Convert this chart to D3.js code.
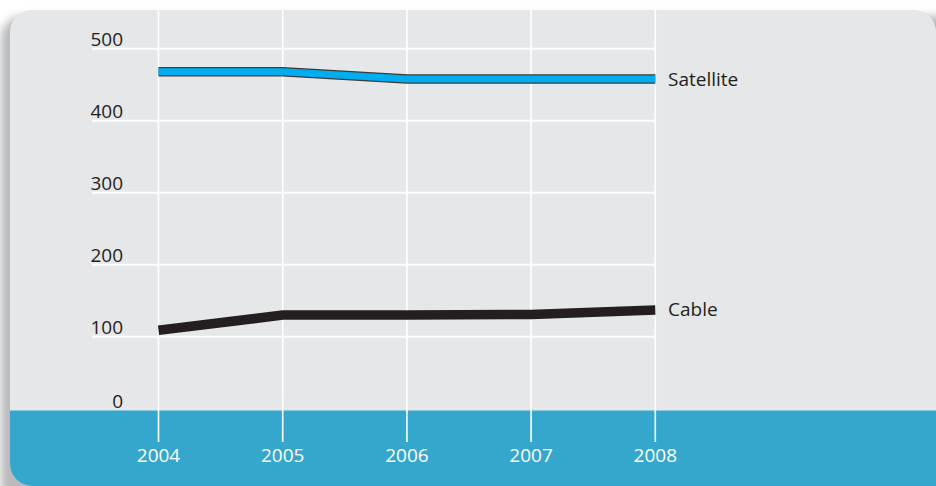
<!DOCTYPE html>
<html>
<head>
<meta charset="utf-8">
<script src="https://cdn.jsdelivr.net/npm/d3@7"></script>
<style>
  html, body { margin: 0; padding: 0; background: #fff; }
  text { font-family: "Open Sans", "Noto Sans", sans-serif; }
</style>
</head>
<body>
<div id="chart"></div>
<script>
// datos
const years = [2004, 2005, 2006, 2007, 2008];
const satellite = [468, 468, 458, 458, 458];
const cable = [109, 130, 130, 131, 137];
const yTicks = [0, 100, 200, 300, 400, 500];

const width = 936;
const height = 486;
const fontSize = 19;

const svg = d3.select('#chart')
  .append('svg')
  .attr('width', width)
  .attr('height', height);

const defs = svg.append('defs');

// sombra del panel
defs.append('filter')
  .attr('id', 'shadow')
  .attr('x', '-20%').attr('y', '-20%')
  .attr('width', '140%').attr('height', '140%')
  .append('feGaussianBlur')
  .attr('stdDeviation', 4);

const clip = defs.append('clipPath').attr('id', 'panelClip');
clip.append('rect')
  .attr('x', 10).attr('y', 10)
  .attr('width', 926).attr('height', 476)
  .attr('rx', 22).attr('ry', 22);
// esquina inferior derecha recta
clip.append('rect')
  .attr('x', 500).attr('y', 100)
  .attr('width', 436).attr('height', 386);

svg.append('rect')
  .attr('x', 1).attr('y', 16)
  .attr('width', 960).attr('height', 490)
  .attr('rx', 22)
  .attr('fill', '#b9babc')
  .attr('filter', 'url(#shadow)');

const panel = svg.append('g').attr('clip-path', 'url(#panelClip)');

panel.append('rect')
  .attr('x', 10).attr('y', 10)
  .attr('width', 926).attr('height', 476)
  .attr('fill', '#e6e7e8');

// escalas
const x = d3.scalePoint()
  .domain(years)
  .range([158.5, 655.3]);

const y = d3.scaleLinear()
  .domain([0, 500])
  .range([408.7, 48.7]);

// banda azul del eje x
panel.append('rect')
  .attr('x', 10).attr('y', 410.5)
  .attr('width', 926).attr('height', 80)
  .attr('fill', '#35a7cd');

// rejilla horizontal
panel.selectAll('.hgrid')
  .data(yTicks.filter(d => d > 0))
  .enter()
  .append('line')
  .attr('class', 'hgrid')
  .attr('x1', 92).attr('x2', x(2008))
  .attr('y1', d => y(d)).attr('y2', d => y(d))
  .attr('stroke', '#fff')
  .attr('stroke-width', 2);

// rejilla vertical
panel.selectAll('.vgrid')
  .data(years)
  .enter()
  .append('line')
  .attr('class', 'vgrid')
  .attr('x1', d => x(d)).attr('x2', d => x(d))
  .attr('y1', 10).attr('y2', 442)
  .attr('stroke', '#fff')
  .attr('stroke-width', 1.6);

// etiquetas eje y
panel.selectAll('.ylabel')
  .data(yTicks)
  .enter()
  .append('text')
  .attr('class', 'ylabel')
  .attr('x', 123)
  .attr('y', d => y(d) - (d === 0 ? 1 : 3))
  .attr('text-anchor', 'end')
  .attr('font-size', fontSize)
  .attr('fill', '#231f20')
  .text(d => d);

// etiquetas eje x
panel.selectAll('.xlabel')
  .data(years)
  .enter()
  .append('text')
  .attr('class', 'xlabel')
  .attr('x', d => x(d))
  .attr('y', 461.5)
  .attr('text-anchor', 'middle')
  .attr('font-size', fontSize)
  .attr('fill', '#fff')
  .text(d => d);

const line = d3.line()
  .x((d, i) => x(years[i]))
  .y(d => y(d));

// satelite: borde oscuro + relleno azul
panel.append('path')
  .attr('d', line(satellite))
  .attr('fill', 'none')
  .attr('stroke', '#3a3a3c')
  .attr('stroke-width', 9.5)
  .attr('stroke-linejoin', 'miter');

panel.append('path')
  .attr('d', line(satellite))
  .attr('fill', 'none')
  .attr('stroke', '#00aeef')
  .attr('stroke-width', 7)
  .attr('stroke-linejoin', 'miter');

// cable
panel.append('path')
  .attr('d', line(cable))
  .attr('fill', 'none')
  .attr('stroke', '#231f20')
  .attr('stroke-width', 9.5)
  .attr('stroke-linejoin', 'miter');

// etiquetas de series
panel.append('text')
  .attr('x', 668)
  .attr('y', y(satellite[4]) + 7)
  .attr('font-size', fontSize)
  .attr('fill', '#231f20')
  .text('Satellite');

panel.append('text')
  .attr('x', 668)
  .attr('y', y(cable[4]) + 6)
  .attr('font-size', fontSize)
  .attr('fill', '#231f20')
  .text('Cable');
</script>
</body>
</html>
